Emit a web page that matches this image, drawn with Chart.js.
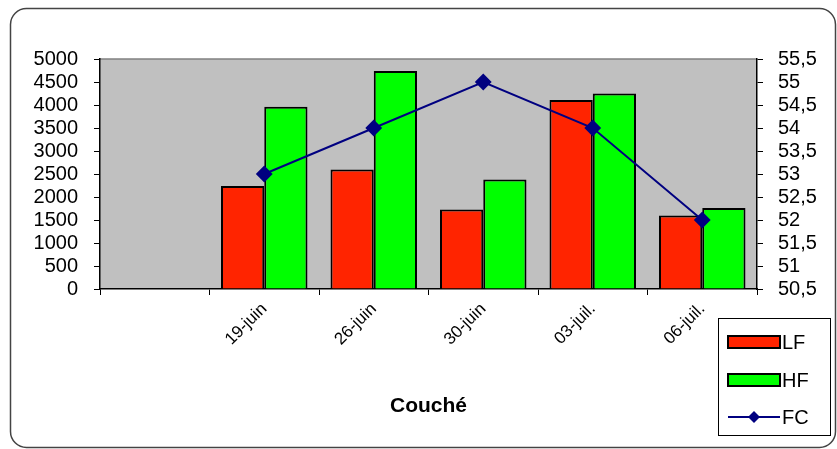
<!DOCTYPE html>
<html>
<head>
  <meta charset="utf-8">
  <script src="https://cdn.jsdelivr.net/npm/chart.js"></script>
  <style>
    html, body { margin: 0; padding: 0; background: #fff; }
    #wrap { width: 837px; height: 449px; position: relative; }
  </style>
</head>
<body>
  <div id="wrap">
    <canvas id="chart" width="837" height="449"></canvas>
  </div>

  <script>
    // data (first slot is an empty category)
    const categories = ['', '19-juin', '26-juin', '30-juin', '03-juil.', '06-juil.']
    const lfValues = [null, 2240, 2600, 1730, 4110, 1600]
    const hfValues = [null, 3960, 4740, 2380, 4250, 1760]
    const fcValues = [null, 53, 54, 55, 54, 52]
    const seriesNames = ['LF', 'HF', 'FC']
    const xTitle = 'Couché'

    const FONT = 'Arial, "Liberation Sans", sans-serif'
    const fmt = v => String(v).replace('.', ',')

    // outer rounded frame + grey plot background + legend box
    const framePlugin = {
      id: 'frame',
      beforeDraw(chart) {
        const ctx = chart.ctx
        const a = chart.chartArea
        ctx.save()
        ctx.fillStyle = '#c0c0c0'
        ctx.fillRect(a.left, a.top, a.right - a.left, a.bottom - a.top)
        ctx.strokeStyle = '#808080'
        ctx.lineWidth = 1.5
        ctx.beginPath()
        ctx.moveTo(a.left, a.top)
        ctx.lineTo(a.right, a.top)
        ctx.stroke()
        ctx.strokeStyle = '#444'
        ctx.lineWidth = 1.5
        ctx.beginPath()
        ctx.roundRect(10.5, 8.5, 825, 439, 16)
        ctx.stroke()
        ctx.restore()
      },
      afterDraw(chart) {
        const ctx = chart.ctx
        const ds = chart.data.datasets
        const x0 = 718, y0 = 318, w = 112, h = 117
        ctx.save()
        ctx.fillStyle = '#fff'
        ctx.fillRect(x0, y0, w, h)
        ctx.strokeStyle = '#000'
        ctx.lineWidth = 1
        ctx.strokeRect(x0 + 0.5, y0 + 0.5, w, h)
        ctx.font = '20px ' + FONT
        ctx.textBaseline = 'middle'
        const rows = [y0 + 24, y0 + 62, y0 + 99]
        seriesNames.forEach((name, i) => {
          const d = ds.find(s => s.label === name)
          const y = rows[i]
          if (d.type === 'line') {
            ctx.strokeStyle = d.borderColor
            ctx.lineWidth = 2
            ctx.beginPath()
            ctx.moveTo(x0 + 10, y)
            ctx.lineTo(x0 + 62, y)
            ctx.stroke()
            ctx.fillStyle = d.borderColor
            ctx.beginPath()
            ctx.moveTo(x0 + 36, y - 6)
            ctx.lineTo(x0 + 42, y)
            ctx.lineTo(x0 + 36, y + 6)
            ctx.lineTo(x0 + 30, y)
            ctx.closePath()
            ctx.fill()
          } else {
            ctx.fillStyle = d.backgroundColor
            ctx.fillRect(x0 + 10, y - 6, 52, 12)
            ctx.strokeStyle = '#000'
            ctx.lineWidth = 2
            ctx.strokeRect(x0 + 10, y - 6, 52, 12)
          }
          ctx.fillStyle = '#000'
          ctx.fillText(d.label, x0 + 64, y + 1)
        })
        ctx.restore()
      }
    }

    const ctx = document.getElementById('chart').getContext('2d')
    const chart = new Chart(ctx, {
      data: {
        labels: categories,
        datasets: [
          {
            type: 'line',
            label: seriesNames[2],
            data: fcValues,
            yAxisID: 'y1',
            borderColor: '#000080',
            backgroundColor: '#000080',
            borderWidth: 2,
            pointStyle: 'rectRot',
            pointRadius: 7,
            pointHoverRadius: 7,
            tension: 0,
            order: 0
          },
          {
            type: 'bar',
            label: seriesNames[0],
            data: lfValues,
            yAxisID: 'y',
            backgroundColor: '#ff2400',
            borderColor: '#000',
            borderWidth: 2,
            categoryPercentage: 0.79,
            barPercentage: 1,
            order: 1
          },
          {
            type: 'bar',
            label: seriesNames[1],
            data: hfValues,
            yAxisID: 'y',
            backgroundColor: '#00ff00',
            borderColor: '#000',
            borderWidth: 2,
            categoryPercentage: 0.79,
            barPercentage: 1,
            order: 2
          }
        ]
      },
      options: {
        responsive: false,
        animation: false,
        layout: { padding: { top: 59, left: 0, right: 0, bottom: 0 } },
        plugins: {
          legend: { display: false },
          tooltip: { enabled: false }
        },
        scales: {
          x: {
            offset: true,
            grid: {
              offset: true,
              drawOnChartArea: false,
              tickLength: 6,
              color: '#000'
            },
            border: { color: '#000', width: 1.5 },
            ticks: {
              autoSkip: false,
              minRotation: 45,
              maxRotation: 45,
              padding: 4,
              color: '#000',
              font: { family: FONT, size: 17 }
            },
            title: {
              display: true,
              text: xTitle,
              color: '#000',
              font: { family: FONT, size: 21, weight: 'bold' },
              padding: { top: 0, bottom: 30 }
            },
            afterFit(s) { s.height = 160 }
          },
          y: {
            position: 'left',
            min: 0,
            max: 5000,
            ticks: {
              autoSkip: false,
              stepSize: 500,
              padding: 16,
              color: '#000',
              font: { family: FONT, size: 20, lineHeight: 1 },
              callback: v => fmt(v)
            },
            grid: { drawOnChartArea: false, tickLength: 6, color: '#000' },
            border: { color: '#000', width: 1.5 },
            afterFit(s) { s.width = 100 }
          },
          y1: {
            position: 'right',
            min: 50.5,
            max: 55.5,
            ticks: {
              autoSkip: false,
              stepSize: 0.5,
              padding: 15,
              color: '#000',
              font: { family: FONT, size: 20, lineHeight: 1 },
              callback: v => fmt(Math.round(v * 10) / 10)
            },
            grid: { drawOnChartArea: false, tickLength: 6, color: '#000' },
            border: { color: '#000', width: 1.5 },
            afterFit(s) { s.width = 80 }
          }
        }
      },
      plugins: [framePlugin]
    })
  </script>
</body>
</html>
